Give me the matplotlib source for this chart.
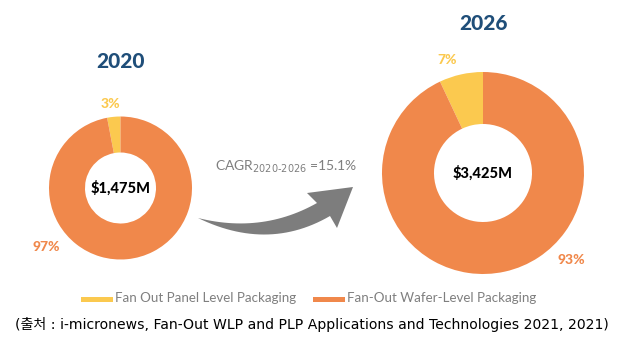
import numpy as np
import matplotlib.pyplot as plt
from matplotlib.patches import Polygon, Rectangle

years = ['2020', '2026']
totals = ['$1,475M', '$3,425M']
panel_share = [3, 7]
wafer_share = [97, 93]
series_names = ['Fan Out Panel Level Packaging', 'Fan-Out Wafer-Level Packaging']
cagr_label = 'CAGR$_{2020\u20102026}$ =15.1%'
source = '(출처 : i-micronews, Fan-Out WLP and PLP Applications and Technologies 2021, 2021)'

yellow = '#fbc94f'
orange = '#f0884b'
navy = '#1f4e79'
grey = '#7f7f7f'

W, H = 627, 341
fig = plt.figure(figsize=(W / 100, H / 100), dpi=100)
fig.patch.set_facecolor('white')

# full-figure axes in pixel coords for decorations
bg = fig.add_axes([0, 0, 1, 1])
bg.set_xlim(0, W)
bg.set_ylim(H, 0)
bg.axis('off')

# donut geometry in pixels: (cx, cy, outer r, inner r)
geo = [(120.5, 188, 71.5, 35.5), (483, 173, 101, 49)]
title_y = [62, 23]
pct_pos = [((-0.14, 1.17), (-1.04, -0.83)), ((-0.36, 1.12), (0.87, -0.86))]

for i in range(2):
    cx, cy, ro, ri = geo[i]
    ax = fig.add_axes([(cx - ro) / W, (H - cy - ro) / H, 2 * ro / W, 2 * ro / H])
    ax.pie([panel_share[i], wafer_share[i]], colors=[yellow, orange], startangle=90,
           counterclock=True, radius=1, wedgeprops=dict(width=1 - ri / ro, linewidth=0))
    ax.set_xlim(-1, 1)
    ax.set_ylim(-1, 1)
    ax.set_aspect('auto')
    ax.axis('off')
    ax.text(0, 0, totals[i], ha='center', va='center', fontsize=10.5,
            fontweight='black', family='Lato', color='black')
    (px, py), (ox, oy) = pct_pos[i]
    ax.text(px, py, f'{panel_share[i]}%', ha='center', va='center', fontsize=10,
            fontweight='black', family='Lato', color=yellow, clip_on=False)
    ax.text(ox, oy, f'{wafer_share[i]}%', ha='center', va='center', fontsize=10,
            fontweight='black', family='Lato', color=orange, clip_on=False)
    bg.text(cx, title_y[i], years[i], ha='center', va='center', fontsize=15,
            fontweight='black', family='Lato', color=navy)

# curved growth arrow
def bez(p0, p1, p2, n=30):
    t = np.linspace(0, 1, n)[:, None]
    p0, p1, p2 = map(np.array, (p0, p1, p2))
    return (1 - t) ** 2 * p0 + 2 * (1 - t) * t * p1 + t ** 2 * p2

upper = bez((198, 218), (262, 234), (317, 203))
lower = bez((330, 216), (268, 252), (198, 218))
head = np.array([(307, 193), (353, 187), (337, 228), (330, 216)])
pts = np.vstack([upper, head, lower])
bg.add_patch(Polygon(pts, closed=True, facecolor='#7d7d7d', edgecolor='none'))

bg.text(286, 167, cagr_label, ha='center', va='center', fontsize=10,
        color=grey, family='Lato')

# legend (drawn by hand: long thin swatches)
leg_x = [81, 313]
for i in range(2):
    bg.add_patch(Rectangle((leg_x[i], 297), 32, 4.5, color=[yellow, orange][i], lw=0))
    bg.text(leg_x[i] + 34, 298.5, series_names[i], ha='left', va='center',
            fontsize=9.6, family='Lato', color=grey)

bg.text(312, 325, source, ha='center', va='center', fontsize=10.1,
        family=['DejaVu Sans', 'Noto Sans CJK KR'], color='black')

fig.savefig('out.png', dpi=100)
